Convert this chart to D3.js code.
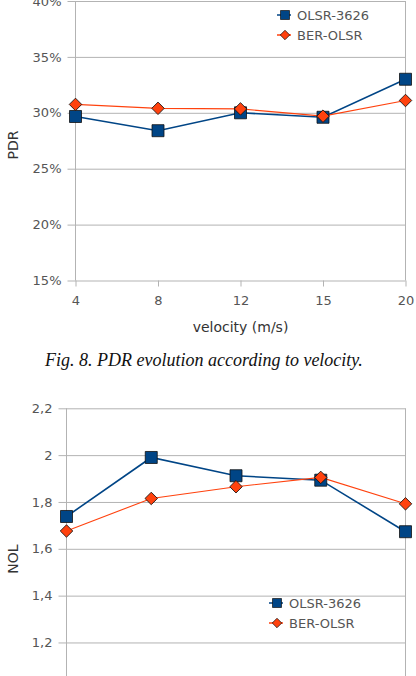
<!DOCTYPE html>
<html><head><meta charset="utf-8">
<script src="https://cdn.jsdelivr.net/npm/d3@7"></script>
<style>body{margin:0;background:#fff}svg{display:block}</style>
</head><body>
<script>
const velocities = ["4", "8", "12", "15", "20"];
const seriesNames = ["OLSR-3626", "BER-OLSR"];
const pdrOLSR = [0.2967, 0.284, 0.300, 0.296, 0.330];
const pdrBER  = [0.3075, 0.304, 0.3035, 0.297, 0.311];
const nolOLSR = [1.738, 1.990, 1.912, 1.893, 1.673];
const nolBER  = [1.676, 1.815, 1.865, 1.905, 1.792];
const pdrTicks = [0.15, 0.20, 0.25, 0.30, 0.35, 0.40];
const nolTicks = [1.2, 1.4, 1.6, 1.8, 2.0, 2.2];

const W = 416, H = 676;
const blue = "#004586", orange = "#ff420e", grid = "#b3b3b3", txt = "#555";
const font = "DejaVu Sans, sans-serif";
const svg = d3.select("body").append("svg").attr("width", W).attr("height", H);

function chart(cfg) {
  const g = svg.append("g");
  const x = d3.scalePoint().domain(velocities).range([cfg.x0, cfg.x1]);
  const y = d3.scaleLinear().domain(cfg.domain).range([cfg.yb, cfg.yt]);
  const ya = d3.axisLeft(y).tickValues(cfg.ticks).tickSize(-(cfg.x1 - cfg.x0)).tickFormat(cfg.fmt).tickPadding(14);
  const yg = g.append("g").attr("transform", `translate(${cfg.x0},0)`).call(ya);
  yg.select(".domain").remove();
  yg.selectAll(".tick line").attr("stroke", grid).attr("x1", -8);
  yg.selectAll(".tick text").attr("fill", txt).attr("font-family", font).attr("font-size", 13);
  g.append("line").attr("x1", cfg.x0).attr("x2", cfg.x0).attr("y1", cfg.yt).attr("y2", cfg.yb).attr("stroke", grid);
  g.append("line").attr("x1", cfg.x1).attr("x2", cfg.x1).attr("y1", cfg.yt).attr("y2", cfg.yb).attr("stroke", grid);
  if (cfg.xaxis) {
    const xa = d3.axisBottom(x).tickSize(6).tickPadding(9);
    const xg = g.append("g").attr("transform", `translate(0,${cfg.yb})`).call(xa);
    xg.select(".domain").remove();
    xg.selectAll(".tick line").attr("stroke", grid);
    xg.selectAll(".tick text").attr("fill", txt).attr("font-family", font).attr("font-size", 13);
    g.append("text").attr("x", (cfg.x0 + cfg.x1) / 2).attr("y", cfg.yb + 51).attr("text-anchor", "middle")
      .attr("font-family", font).attr("font-size", 14).attr("fill", "#333").text("velocity (m/s)");
  }
  g.append("text").attr("transform", `translate(${cfg.ylabX},${cfg.ylabY}) rotate(-90)`).attr("text-anchor", "middle")
    .attr("font-family", font).attr("font-size", 14).attr("fill", "#333").text(cfg.ylabel);

  const line = d3.line().x((d, i) => x(velocities[i])).y(d => y(d));
  const series = [{v: cfg.a, c: blue, w: 1.6, m: "sq"}, {v: cfg.b, c: orange, w: 1.1, m: "di"}];
  series.forEach(s => g.append("path").attr("d", line(s.v)).attr("fill", "none").attr("stroke", s.c).attr("stroke-width", s.w));
  series.forEach(s => {
    const sym = s.m === "sq" ? d3.symbol(d3.symbolSquare, 144) : d3.symbol(d3.symbolSquare, 78);
    g.selectAll(null).data(s.v).join("path")
      .attr("d", sym)
      .attr("transform", (d, i) => `translate(${x(velocities[i])},${y(d)})` + (s.m === "di" ? " rotate(45)" : ""))
      .attr("fill", s.c).attr("stroke", "#111").attr("stroke-width", 0.8);
  });
  series.forEach((s, i) => {
    const ly = cfg.legY + i * 20;
    const lx = cfg.legX;
    g.append("line").attr("x1", lx).attr("x2", lx + 14).attr("y1", ly).attr("y2", ly).attr("stroke", s.c).attr("stroke-width", 1.5);
    const sym = s.m === "sq" ? d3.symbol(d3.symbolSquare, 81) : d3.symbol(d3.symbolSquare, 45);
    g.append("path").attr("d", sym).attr("transform", `translate(${lx + 8},${ly})` + (s.m === "di" ? " rotate(45)" : ""))
      .attr("fill", s.c).attr("stroke", "#111").attr("stroke-width", 0.7);
    g.append("text").attr("x", lx + 20).attr("y", ly).attr("dy", "0.36em").attr("font-family", font).attr("font-size", 13)
      .attr("fill", txt).text(seriesNames[i]);
  });
}

chart({x0: 75.5, x1: 405.5, yt: 1, yb: 280.5, domain: [0.15, 0.40], ticks: pdrTicks,
  fmt: d => Math.round(d * 100) + "%", xaxis: true, ylabel: "PDR", ylabX: 18, ylabY: 145,
  a: pdrOLSR, b: pdrBER, legX: 277, legY: 15});

svg.append("text").attr("x", 204).attr("y", 366).attr("text-anchor", "middle")
  .attr("font-family", "Liberation Serif, Times New Roman, serif").attr("font-style", "italic").attr("font-size", 18)
  .attr("fill", "#111").text("Fig. 8. PDR evolution according to velocity.");

chart({x0: 66.5, x1: 405.5, yt: 408.3, yb: 689.3, domain: [1.0, 2.2], ticks: nolTicks,
  fmt: d => String(+d.toFixed(1)).replace(".", ","), xaxis: false, ylabel: "NOL", ylabX: 18, ylabY: 559,
  a: nolOLSR, b: nolBER, legX: 269, legY: 603});
</script>
</body></html>
